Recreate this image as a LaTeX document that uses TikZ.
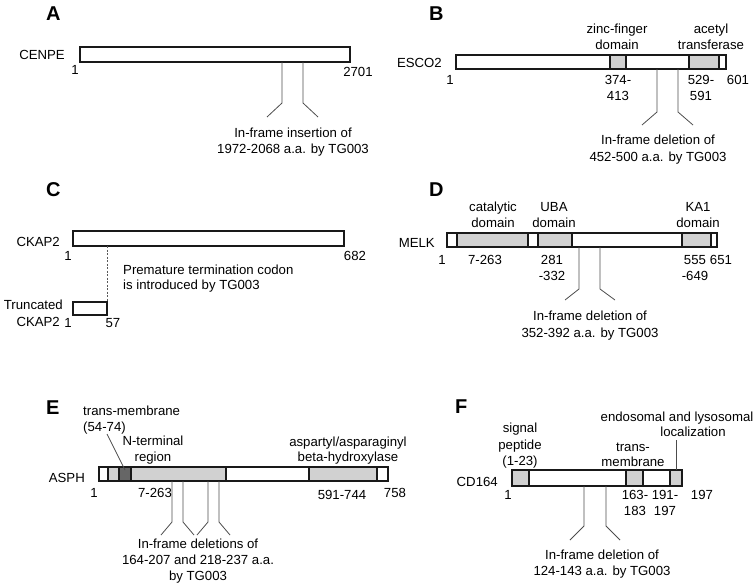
\documentclass[tikz,border=0pt]{standalone}
\usepackage{fontspec}
\setmainfont{Liberation Sans}
\usetikzlibrary{calc}
\tikzset{
  lbl/.style={font=\fontsize{13.2}{16}\selectfont, inner sep=0pt, anchor=base},
  lblr/.style={lbl, anchor=base east},
  lbll/.style={lbl, anchor=base west},
  letter/.style={font=\fontsize{20}{20}\selectfont\bfseries, inner sep=0pt, anchor=base west},
  barline/.style={draw=black!90, line width=1.2pt},
  dom/.style={barline, fill=black!18},
  darkdom/.style={barline, fill=black!60},
  conn/.style={draw=black!70, line width=0.8pt},
  dashconn/.style={draw=black!65, line width=0.75pt, dash pattern=on 2pt off 1.5pt}
}
\begin{document}
\begin{tikzpicture}[x=1pt,y=-1pt]
\useasboundingbox (0,0) rectangle (755,584);

% ---------------- A ----------------
\node[letter] (lA) at (46,20.5) {A};
\draw[barline, fill=white] (80,47) rectangle (350,62);
\node[lblr] (nCENPE) at (65,59.5) {CENPE};
\node[lbl] (a1) at (75,74.5) {1};
\node[lbl] (a2701) at (358,76) {2701};
\coordinate (aL0) at (282,62); \coordinate (aL1) at (282,103); \coordinate (aL2) at (267,117);
\coordinate (aR0) at (303,62); \coordinate (aR1) at (303,103); \coordinate (aR2) at (318,117);
\draw[conn] (aL0) -- (aL1) -- (aL2);
\draw[conn] (aR0) -- (aR1) -- (aR2);
\node[lbl] (aT1) at (293,137) {In-frame insertion of};
\node[lbl] (aT2) at (293,153) {1972-2068 a.a. by TG003};

% ---------------- B ----------------
\node[letter] (lB) at (429,20.5) {B};
\draw[barline, fill=white] (456,55) rectangle (726,69);
\draw[dom] (610,55) rectangle (626,69);
\draw[dom] (689,55) rectangle (719,69);
\draw[barline] (456,55) rectangle (726,69);
\node[lbl] (bZ1) at (617,33) {zinc-finger};
\node[lbl] (bZ2) at (617,49) {domain};
\node[lbl] (bA1) at (711,33) {acetyl};
\node[lbl] (bA2) at (711,49) {transferase};
\node[lblr] (nESCO2) at (442,67) {ESCO2};
\node[lbl] (b1) at (450,84) {1};
\node[lbl] (b374) at (618,84) {374-};
\node[lbl] (b413) at (618,100) {413};
\node[lbl] (b529) at (701,84) {529-};
\node[lbl] (b591) at (701,100) {591};
\node[lbl] (b601) at (738,84) {601};
\coordinate (bL0) at (657,69); \coordinate (bL1) at (657,112); \coordinate (bL2) at (642,125);
\coordinate (bR0) at (678,69); \coordinate (bR1) at (678,112); \coordinate (bR2) at (693,125);
\draw[conn] (bL0) -- (bL1) -- (bL2);
\draw[conn] (bR0) -- (bR1) -- (bR2);
\node[lbl] (bT1) at (658,144.5) {In-frame deletion of};
\node[lbl] (bT2) at (658,161) {452-500 a.a. by TG003};

% ---------------- C ----------------
\node[letter] (lC) at (46,196.5) {C};
\draw[barline, fill=white] (73,231) rectangle (344,246);
\node[lblr] (nCKAP2) at (60,246) {CKAP2};
\node[lbl] (c1) at (68,260.5) {1};
\node[lbl] (c682) at (355,260.5) {682};
\draw[barline, fill=white] (73,302) rectangle (107,315);
\coordinate (cD0) at (107,246); \coordinate (cD1) at (107,302);
\draw[dashconn] (cD0) -- (cD1);
\node[lbll] (cT1) at (123,274.5) {Premature termination codon};
\node[lbll] (cT2) at (123,289) {is introduced by TG003};
\node[lblr] (nTr1) at (63,309.5) {Truncated};
\node[lblr] (nTr2) at (60,326) {CKAP2};
\node[lbl] (c1b) at (68,327) {1};
\node[lbl] (c57) at (113,327) {57};

% ---------------- D ----------------
\node[letter] (lD) at (429,196.5) {D};
\draw[barline, fill=white] (447,233) rectangle (717,247);
\draw[dom] (457,233) rectangle (528,247);
\draw[dom] (538,233) rectangle (572,247);
\draw[dom] (682,233) rectangle (711,247);
\draw[barline] (447,233) rectangle (717,247);
\node[lbl] (dC1) at (493,211.5) {catalytic};
\node[lbl] (dC2) at (493,227) {domain};
\node[lbl] (dU1) at (554,211.5) {UBA};
\node[lbl] (dU2) at (554,227) {domain};
\node[lbl] (dK1) at (698,211.5) {KA1};
\node[lbl] (dK2) at (698,227) {domain};
\node[lblr] (nMELK) at (435,247) {MELK};
\node[lbl] (d1) at (442,264.5) {1};
\node[lbl] (d7) at (485,264.5) {7-263};
\node[lbl] (d281) at (552,264.5) {281};
\node[lbl] (d332) at (552,280) {-332};
\node[lbl] (d555) at (695,264.5) {555};
\node[lbl] (d649) at (695,280) {-649};
\node[lbl] (d651) at (721,264.5) {651};
\coordinate (dL0) at (579,247); \coordinate (dL1) at (579,289); \coordinate (dL2) at (565,300);
\coordinate (dR0) at (600,247); \coordinate (dR1) at (600,289); \coordinate (dR2) at (615,300);
\draw[conn] (dL0) -- (dL1) -- (dL2);
\draw[conn] (dR0) -- (dR1) -- (dR2);
\node[lbl] (dT1) at (590,320.5) {In-frame deletion of};
\node[lbl] (dT2) at (590,337) {352-392 a.a. by TG003};

% ---------------- E ----------------
\node[letter] (lE) at (46,414.5) {E};
\draw[barline, fill=white] (99,467) rectangle (388,481);
\draw[dom] (108,467) rectangle (119,481);
\draw[darkdom] (119,467) rectangle (131,481);
\draw[dom] (131,467) rectangle (226,481);
\draw[dom] (309,467) rectangle (377,481);
\draw[barline] (99,467) rectangle (388,481);
\node[lbll] (eTM1) at (83,415) {trans-membrane};
\node[lbll] (eTM2) at (83,431) {(54-74)};
\coordinate (eP0) at (107,434); \coordinate (eP1) at (125,470);
\draw[conn] (eP0) -- (eP1);
\node[lbl] (eN1) at (153,445) {N-terminal};
\node[lbl] (eN2) at (153,461) {region};
\node[lbl] (eH1) at (348,446) {aspartyl/asparaginyl};
\node[lbl] (eH2) at (348,461.5) {beta-hydroxylase};
\node[lblr] (nASPH) at (85,482.5) {ASPH};
\node[lbl] (e1) at (94,497) {1};
\node[lbl] (e7) at (155,497) {7-263};
\node[lbl] (e591) at (342,499) {591-744};
\node[lbl] (e758) at (395,497.5) {758};
\coordinate (e10) at (172,481); \coordinate (e11) at (172,522); \coordinate (e12) at (161,535);
\coordinate (e20) at (183,481); \coordinate (e21) at (183,522); \coordinate (e22) at (194,535);
\coordinate (e30) at (208,481); \coordinate (e31) at (208,522); \coordinate (e32) at (197,535);
\coordinate (e40) at (219,481); \coordinate (e41) at (219,522); \coordinate (e42) at (230,535);
\draw[conn] (e10) -- (e11) -- (e12);
\draw[conn] (e20) -- (e21) -- (e22);
\draw[conn] (e30) -- (e31) -- (e32);
\draw[conn] (e40) -- (e41) -- (e42);
\node[lbl] (eT1) at (198,548.5) {In-frame deletions of};
\node[lbl] (eT2) at (198,564.5) {164-207 and 218-237 a.a.};
\node[lbl] (eT3) at (198,580) {by TG003};

% ---------------- F ----------------
\node[letter] (lF) at (455,413.5) {F};
\draw[barline, fill=white] (512,470) rectangle (682,486);
\draw[dom] (512,470) rectangle (529,486);
\draw[dom] (626,470) rectangle (643,486);
\draw[dom] (670,470) rectangle (682,486);
\draw[barline] (512,470) rectangle (682,486);
\node[lbl] (fS1) at (520,432.5) {signal};
\node[lbl] (fS2) at (520,449) {peptide};
\node[lbl] (fS3) at (520,465.5) {(1-23)};
\node[lbl] (fM1) at (633,451) {trans-};
\node[lbl] (fM2) at (633,466) {membrane};
\node[lbl] (fE1) at (677,421.5) {endosomal and lysosomal};
\node[lbl] (fE2) at (693,436.5) {localization};
\coordinate (fP0) at (676,440); \coordinate (fP1) at (676,470);
\draw[conn] (fP0) -- (fP1);
\node[lblr] (nCD164) at (498,486.5) {CD164};
\node[lbl] (f1) at (508,499.5) {1};
\node[lbl] (f163) at (635,499.5) {163-};
\node[lbl] (f183) at (635,515.5) {183};
\node[lbl] (f191) at (665,499.5) {191-};
\node[lbl] (f197a) at (665,515.5) {197};
\node[lbl] (f197) at (702,499.5) {197};
\coordinate (fL0) at (584,486); \coordinate (fL1) at (584,526); \coordinate (fL2) at (570,540);
\coordinate (fR0) at (606,486); \coordinate (fR1) at (606,526); \coordinate (fR2) at (620,540);
\draw[conn] (fL0) -- (fL1) -- (fL2);
\draw[conn] (fR0) -- (fR1) -- (fR2);
\node[lbl] (fT1) at (602,559.5) {In-frame deletion of};
\node[lbl] (fT2) at (602,575.5) {124-143 a.a. by TG003};
\end{tikzpicture}
\end{document}
